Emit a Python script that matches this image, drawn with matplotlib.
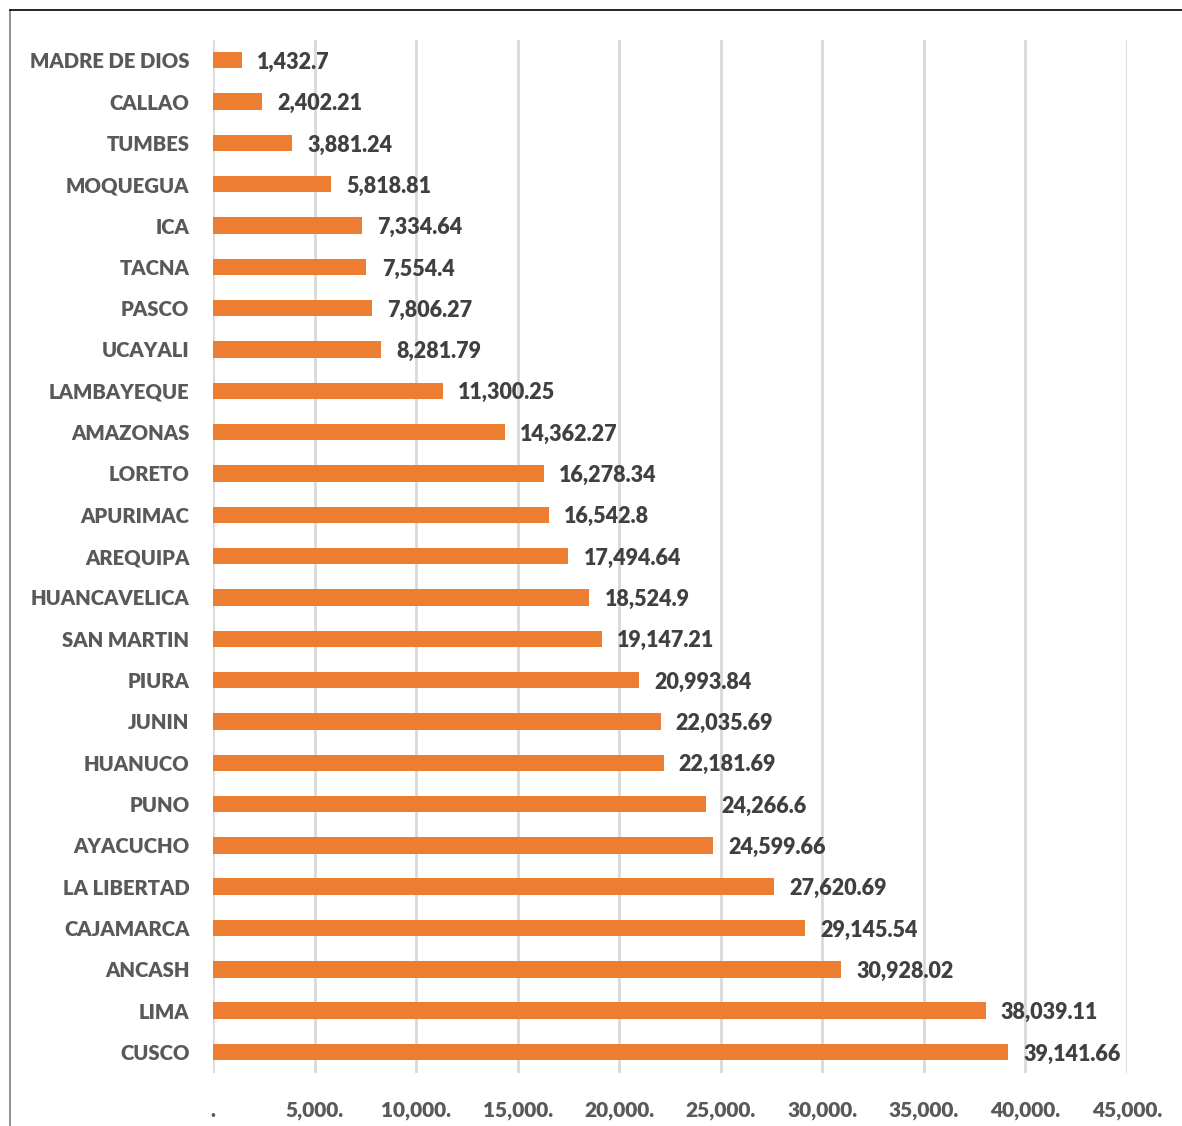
import matplotlib
matplotlib.use("Agg")
import matplotlib.pyplot as plt
from matplotlib.lines import Line2D

categories = ["MADRE DE DIOS", "CALLAO", "TUMBES", "MOQUEGUA", "ICA", "TACNA", "PASCO",
              "UCAYALI", "LAMBAYEQUE", "AMAZONAS", "LORETO", "APURIMAC", "AREQUIPA",
              "HUANCAVELICA", "SAN MARTIN", "PIURA", "JUNIN", "HUANUCO", "PUNO",
              "AYACUCHO", "LA LIBERTAD", "CAJAMARCA", "ANCASH", "LIMA", "CUSCO"]
values = [1432.7, 2402.21, 3881.24, 5818.81, 7334.64, 7554.4, 7806.27, 8281.79,
          11300.25, 14362.27, 16278.34, 16542.8, 17494.64, 18524.9, 19147.21,
          20993.84, 22035.69, 22181.69, 24266.6, 24599.66, 27620.69, 29145.54,
          30928.02, 38039.11, 39141.66]
value_labels = ["1,432.7", "2,402.21", "3,881.24", "5,818.81", "7,334.64", "7,554.4",
                "7,806.27", "8,281.79", "11,300.25", "14,362.27", "16,278.34", "16,542.8",
                "17,494.64", "18,524.9", "19,147.21", "20,993.84", "22,035.69",
                "22,181.69", "24,266.6", "24,599.66", "27,620.69", "29,145.54",
                "30,928.02", "38,039.11", "39,141.66"]
xticks = [0, 5000, 10000, 15000, 20000, 25000, 30000, 35000, 40000, 45000]
xtick_labels = [".", "5,000.", "10,000.", "15,000.", "20,000.", "25,000.", "30,000.",
                "35,000.", "40,000.", "45,000."]

plt.rcParams['font.family'] = ['Lato', 'DejaVu Sans']

fig = plt.figure(figsize=(11.82, 11.26), dpi=100)
ax = fig.add_axes([0.1802, 0.0473, 0.9535 - 0.1802, 0.9649 - 0.0473])

y = list(range(len(categories)))
ax.barh(y, values, height=0.4, color="#ED7D31", zorder=3)
ax.set_ylim(len(categories) - 0.5, -0.5)
ax.set_xlim(0, 45000)
ax.set_yticks(y)
ax.set_yticklabels(categories, fontsize=14.6, fontweight="heavy", color="#595959")
ax.set_xticks(xticks)
ax.set_xticklabels(xtick_labels, fontsize=15, fontweight="heavy", color="#595959")
ax.tick_params(axis="y", length=0, pad=17)
ax.tick_params(axis="x", length=0, pad=20)
ax.grid(axis="x", color="#D9D9D9", linewidth=2, zorder=0)
for s in ax.spines.values():
    s.set_visible(False)

for yi, v, lab in zip(y, values, value_labels):
    ax.annotate(lab, (v, yi), xytext=(11, -1.5), textcoords="offset points",
                va="center", ha="left", fontsize=15.5, fontweight="heavy", color="#404040")

# outer frame lines
fig.add_artist(Line2D([10 / 1182, 10 / 1182], [0, 1 - 10 / 1126], transform=fig.transFigure,
                      color="#7F7F7F", linewidth=1.2))
fig.add_artist(Line2D([10 / 1182, 1], [1 - 10 / 1126, 1 - 10 / 1126], transform=fig.transFigure,
                      color="#000000", linewidth=1.2))

fig.savefig("out.png", dpi=100)
